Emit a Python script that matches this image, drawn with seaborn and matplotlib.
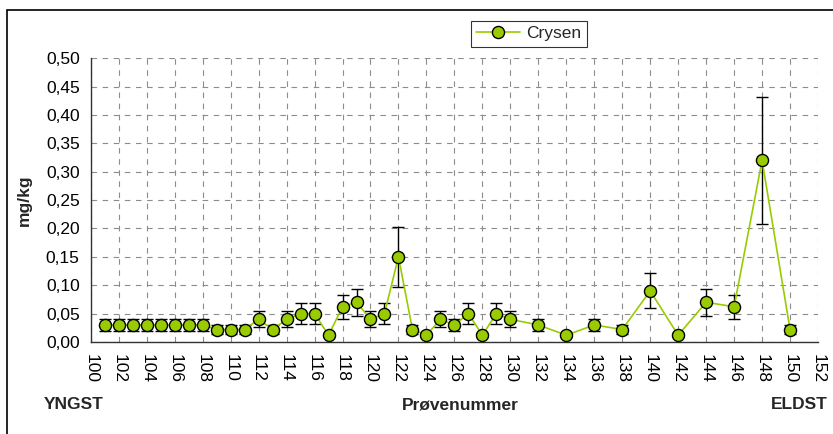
import numpy as np
import pandas as pd
import matplotlib
matplotlib.use('Agg')
import matplotlib.pyplot as plt
import seaborn as sns
from matplotlib.ticker import FuncFormatter, MultipleLocator
from matplotlib.patches import Rectangle

# ── data ─────────────────────────────────────────────────────────────────────
sample_no = [101, 102, 103, 104, 105, 106, 107, 108, 109, 110, 111, 112, 113,
             114, 115, 116, 117, 118, 119, 120, 121, 122, 123, 124, 125, 126,
             127, 128, 129, 130, 132, 134, 136, 138, 140, 142, 144, 146, 148,
             150]
crysen = [0.030, 0.030, 0.030, 0.030, 0.030, 0.030, 0.030, 0.030, 0.022,
          0.022, 0.022, 0.040, 0.022, 0.040, 0.050, 0.050, 0.012, 0.062,
          0.070, 0.040, 0.050, 0.150, 0.022, 0.012, 0.040, 0.030, 0.050,
          0.012, 0.050, 0.040, 0.030, 0.012, 0.030, 0.022, 0.090, 0.012,
          0.070, 0.062, 0.320, 0.022]
crysen_err = [0.010, 0.010, 0.010, 0.010, 0.010, 0.010, 0.010, 0.010, 0.008,
              0.008, 0.008, 0.014, 0.008, 0.014, 0.018, 0.018, 0.004, 0.021,
              0.024, 0.014, 0.018, 0.053, 0.008, 0.004, 0.014, 0.010, 0.018,
              0.004, 0.018, 0.014, 0.010, 0.004, 0.010, 0.008, 0.031, 0.004,
              0.024, 0.021, 0.112, 0.008]

GREEN = '#99CC00'
FS = 12.5

sns.set_style('white')
plt.rcParams['font.family'] = ['Liberation Sans', 'DejaVu Sans']

df = pd.DataFrame({'Prøvenummer': sample_no, 'mg/kg': crysen, 'err': crysen_err})

fig = plt.figure(figsize=(8.33, 4.34), dpi=100)
ax = fig.add_axes([0.109, 0.212, 0.873, 0.654])

ax.errorbar(df['Prøvenummer'], df['mg/kg'], yerr=df['err'], fmt='none',
            ecolor='black', elinewidth=1.0, capsize=4.5, capthick=1.0, zorder=2)
sns.lineplot(data=df, x='Prøvenummer', y='mg/kg', ax=ax, color=GREEN,
             linewidth=1.2, marker='o', markersize=8.7, markerfacecolor=GREEN,
             markeredgecolor='black', markeredgewidth=1.0, label='Crysen',
             zorder=3)

ax.set_xlim(100, 152)
ax.set_ylim(0, 0.5)
ax.xaxis.set_major_locator(MultipleLocator(2))
ax.yaxis.set_major_locator(MultipleLocator(0.05))
ax.yaxis.set_major_formatter(FuncFormatter(lambda v, p: f'{v:.2f}'.replace('.', ',')))
ax.grid(True, color='#8c8c8c', linestyle=(0, (5, 5)), linewidth=0.8)
ax.set_axisbelow(True)

for side in ['top', 'right']:
    ax.spines[side].set_visible(False)
for side in ['left', 'bottom']:
    ax.spines[side].set_color('#333333')
    ax.spines[side].set_linewidth(1.0)

ax.tick_params(axis='both', direction='out', length=5, width=1.0,
               color='#333333', labelsize=FS, labelcolor='black')
ax.tick_params(axis='x', labelrotation=270, pad=4)
ax.tick_params(axis='y', pad=3)

ax.set_xlabel('')
ax.set_ylabel('mg/kg', fontsize=FS, fontweight='bold')
ax.yaxis.set_label_coords(-0.081, 0.5)

fig.text(0.552, 0.067, 'Prøvenummer', fontsize=FS, fontweight='bold',
         ha='center', va='center')
fig.text(0.052, 0.067, 'YNGST', fontsize=FS, fontweight='bold',
         ha='left', va='center')
fig.text(0.994, 0.067, 'ELDST', fontsize=FS, fontweight='bold',
         ha='right', va='center')

leg = ax.legend(loc='center', bbox_to_anchor=(0.635, 0.922),
                bbox_transform=fig.transFigure, frameon=True, fancybox=False,
                edgecolor='black', fontsize=FS, handlelength=2.5,
                borderpad=0.3, handletextpad=0.4)
leg.get_frame().set_linewidth(0.8)

# outer chart frame
fig.patches.append(Rectangle((0.008, -0.01), 1.0, 0.987, transform=fig.transFigure,
                             fill=False, edgecolor='black', linewidth=1.2))

fig.savefig('out.png', dpi=100)
